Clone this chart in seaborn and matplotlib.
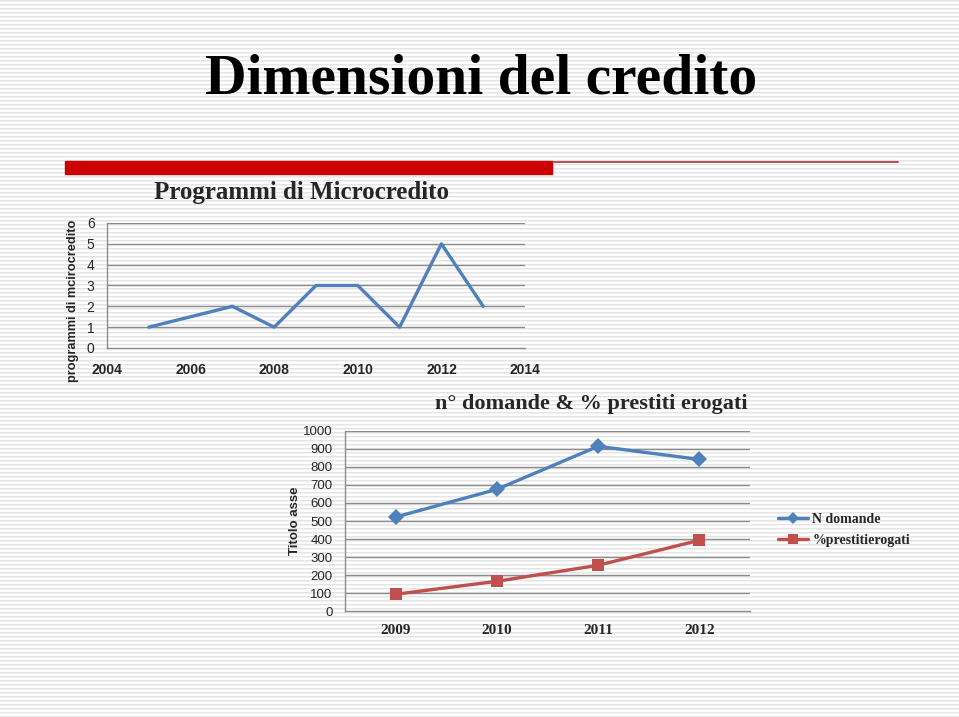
import matplotlib
matplotlib.use("Agg")
import matplotlib.pyplot as plt
import matplotlib.lines as mlines
import numpy as np
import pandas as pd
import seaborn as sns

# data
anni = [2005, 2007, 2008, 2009, 2010, 2011, 2012, 2013]
programmi = [1, 2, 1, 3, 3, 1, 5, 2]

anni_cat = ["2009", "2010", "2011", "2012"]
n_domande = [522, 676, 915, 842]
prestiti_erogati = [93, 165, 254, 393]

BLUE = "#4F81BD"
RED = "#C0504D"
GRID = "#8c8c8c"
SERIF = ["Liberation Serif", "DejaVu Serif"]
SANS = ["Liberation Sans", "DejaVu Sans"]

sns.set_theme(style="white")
plt.rcParams["font.family"] = SANS

fig = plt.figure(figsize=(9.59, 7.17), dpi=100)

# striped slide background
H, W = 717, 959
bg = np.ones((H, W, 3))
bg[::4, :, :] = 0.90
bg[1::4, :, :] = 0.95
fig.figimage(bg, xo=0, yo=0, zorder=-10)

# slide title and red rule
fig.text(481 / W, 1 - 80 / H, "Dimensioni del credito", ha="center", va="center",
         fontsize=41.4, fontweight="bold", family=SERIF, color="black")
fig.patches.append(plt.Rectangle((65 / W, 1 - 174 / H), (552 - 65) / W, 13 / H,
                                 transform=fig.transFigure, color="#CC0000", zorder=1))
fig.lines.append(mlines.Line2D([552 / W, 898 / W], [1 - 162 / H, 1 - 162 / H],
                               transform=fig.transFigure, color="#B03030", lw=1.2))

# ---- top chart
ax1 = fig.add_axes([107 / W, 1 - 348 / H, 418 / W, 125 / H])
ax1.patch.set_alpha(0)
sns.lineplot(x=anni, y=programmi, ax=ax1, color=BLUE, linewidth=2.4)
ax1.set_xlim(2004, 2014)
ax1.set_ylim(0, 6)
ax1.set_xticks(range(2004, 2015, 2))
ax1.set_yticks(range(0, 7))
for y in range(1, 7):
    ax1.axhline(y, color=GRID, lw=1, zorder=0)
for s in ["top", "right"]:
    ax1.spines[s].set_visible(False)
for s in ["left", "bottom"]:
    ax1.spines[s].set_color(GRID)
    ax1.spines[s].set_linewidth(1)
ax1.tick_params(length=0, labelsize=10)
ax1.tick_params(axis="y", pad=9)
ax1.tick_params(axis="x", pad=11)
for t in ax1.get_xticklabels():
    t.set_fontweight("bold")
ax1.set_ylabel("programmi di mcirocredito", fontsize=9.2, fontweight="bold")
ax1.yaxis.set_label_coords(-0.066, 0.38)
fig.text(301 / W, 1 - 193 / H, "Programmi di Microcredito", ha="center", va="center",
         fontsize=18, fontweight="bold", family=SERIF)

# ---- bottom chart
df = pd.DataFrame({
    "anno": anni_cat * 2,
    "valore": n_domande + prestiti_erogati,
    "serie": ["N domande"] * 4 + ["%prestitierogati"] * 4,
})
ax2 = fig.add_axes([345 / W, 1 - 611 / H, 405 / W, 180 / H])
ax2.patch.set_alpha(0)
sns.lineplot(data=df, x="anno", y="valore", hue="serie", style="serie",
             palette=[BLUE, RED], markers=["D", "s"], dashes=False,
             linewidth=2.4, markersize=8, markeredgewidth=0, ax=ax2, legend=False)
ax2.set_xlim(-0.5, 3.5)
ax2.set_ylim(0, 1000)
ax2.set_yticks(range(0, 1001, 100))
for y in range(100, 1001, 100):
    ax2.axhline(y, color=GRID, lw=1, zorder=0)
for s in ["top", "right"]:
    ax2.spines[s].set_visible(False)
for s in ["left", "bottom"]:
    ax2.spines[s].set_color(GRID)
    ax2.spines[s].set_linewidth(1)
ax2.tick_params(length=0, labelsize=9.5)
ax2.tick_params(axis="y", pad=9)
ax2.tick_params(axis="x", pad=9)
for t in ax2.get_xticklabels():
    t.set_fontweight("bold")
    t.set_family(SERIF)
    t.set_fontsize(11)
ax2.set_xlabel("")
ax2.set_ylabel("Titolo asse", fontsize=9.5, fontweight="bold")
ax2.yaxis.set_label_coords(-0.108, 0.5)
fig.text(591 / W, 1 - 404 / H, "n° domande & % prestiti erogati", ha="center", va="center",
         fontsize=16, fontweight="bold", family=SERIF)

handles = [
    mlines.Line2D([], [], color=BLUE, lw=2.4, marker="D", markersize=6, markeredgewidth=0),
    mlines.Line2D([], [], color=RED, lw=2.4, marker="s", markersize=7, markeredgewidth=0),
]
leg = fig.legend(handles, ["N domande", "%prestitierogati"], loc="center left",
                 bbox_to_anchor=(765 / W, 1 - 530 / H), frameon=False,
                 prop={"family": SERIF, "weight": "bold", "size": 10},
                 handlelength=2.2, handletextpad=0.3, labelspacing=0.6)

fig.savefig("out.png", dpi=100)
